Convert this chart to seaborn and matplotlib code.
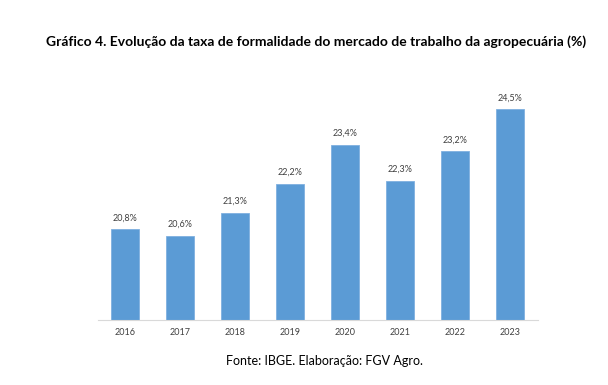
import matplotlib
matplotlib.use('Agg')
import matplotlib.pyplot as plt
import seaborn as sns
import pandas as pd

# dados do gráfico
anos = ["2016", "2017", "2018", "2019", "2020", "2021", "2022", "2023"]
taxa = [20.8, 20.6, 21.3, 22.2, 23.4, 22.3, 23.2, 24.5]

df = pd.DataFrame({"ano": anos, "taxa": taxa})

sns.set_style("white")
plt.rcParams['font.family'] = ['Lato', 'DejaVu Sans']

fig = plt.figure(figsize=(6.08, 3.85), dpi=100)
ax = fig.add_axes([97.5 / 608, 1 - 320 / 385, 440 / 608, 227 / 385])

sns.barplot(data=df, x="ano", y="taxa", color="#5B9BD5", width=0.5,
            saturation=1, ax=ax, edgecolor="#7FB0E0", linewidth=0.6)

ax.set_ylim(18, 25)
ax.set_xlim(-0.5, len(anos) - 0.5)

# rótulos acima das barras
for i, v in enumerate(taxa):
    ax.annotate(f"{v:.1f}%".replace(".", ","), (i, v), xytext=(0, 5),
                textcoords="offset points", ha="center", va="bottom",
                fontsize=6.5, color="#404040")

ax.set_xlabel("")
ax.set_ylabel("")
ax.set_yticks([])
for s in ["top", "right", "left"]:
    ax.spines[s].set_visible(False)
ax.spines["bottom"].set_color("#D9D9D9")
ax.spines["bottom"].set_linewidth(0.8)
ax.tick_params(axis="x", length=0, labelsize=6.5, labelcolor="#404040", pad=6)

fig.text(316 / 608, 1 - 42 / 385,
         "Gráfico 4. Evolução da taxa de formalidade do mercado de trabalho da agropecuária (%)",
         ha="center", va="center", fontsize=10, fontweight="bold", color="black")
fig.text(324 / 608, 1 - 361 / 385, "Fonte: IBGE. Elaboração: FGV Agro.",
         ha="center", va="center", fontsize=9, color="black")

fig.savefig("out.png", dpi=100)
